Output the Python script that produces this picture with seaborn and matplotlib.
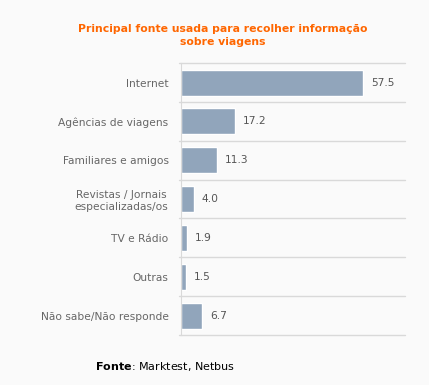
import matplotlib
matplotlib.use("Agg")
from matplotlib import pyplot as plt
import pandas as pd
import seaborn as sns

categories = ["Internet", "Agências de viagens", "Familiares e amigos",
              "Revistas / Jornais\nespecializadas/os", "TV e Rádio", "Outras",
              "Não sabe/Não responde"]
values = [57.5, 17.2, 11.3, 4.0, 1.9, 1.5, 6.7]

sns.set_style("white")
plt.rcParams['font.family'] = ['DejaVu Sans']

df = pd.DataFrame({"fonte": categories, "pct": values})

fig = plt.figure(figsize=(4.29, 3.85), dpi=100, facecolor='#fafafa')
ax = fig.add_axes([0.422, 0.130, 0.522, 0.706])
ax.set_facecolor('#fafafa')

sns.barplot(data=df, y="fonte", x="pct", color='#91a5bb', width=0.67,
            saturation=1, ax=ax)

for i, v in enumerate(values):
    ax.text(v + 2.5, i, f"{v:.1f}", va='center', ha='left',
            fontsize=7.7, color='#555555')

ax.set_xlim(0, 70.8)
ax.set_ylim(len(values) - 0.5, -0.5)
for b in range(len(values) + 1):
    ax.axhline(b - 0.5, color='#d9d9d9', lw=1, clip_on=False, xmin=-0.01)

for s in ['top', 'right', 'bottom']:
    ax.spines[s].set_visible(False)
ax.spines['left'].set_color('#d9d9d9')
ax.set_xticks([])
ax.tick_params(axis='y', length=0, pad=9, labelsize=7.7, labelcolor='#666666')
for lab in ax.get_yticklabels():
    lab.set_horizontalalignment('right')
    lab.set_multialignment('center')
ax.set_xlabel('')
ax.set_ylabel('')

fig.text(0.52, 0.908, "Principal fonte usada para recolher informação\nsobre viagens",
         ha='center', va='center', color='#ff6600', fontsize=7.8,
         fontweight='bold', linespacing=1.3)

fig.text(0.222, 0.047, r"$\bf{Fonte}$: Marktest, Netbus", ha='left', va='center',
         fontsize=8, color='#000000')

fig.savefig("out.png", dpi=100, facecolor=fig.get_facecolor())
